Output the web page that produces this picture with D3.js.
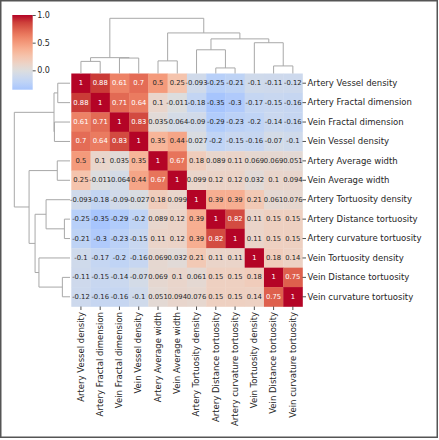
<!DOCTYPE html>
<html><head><meta charset="utf-8">
<script src="https://cdn.jsdelivr.net/npm/d3@7"></script>
<style>html,body{margin:0;padding:0;background:#fff;}svg{display:block;}</style>
</head><body>
<svg id="chart" width="439" height="440"></svg>
<script>
// ---------- data ----------
const labels = ["Artery Vessel density","Artery Fractal dimension","Vein Fractal dimension","Vein Vessel density",
  "Artery Average width","Vein Average width","Artery Tortuosity density","Artery Distance tortuosity",
  "Artery curvature tortuosity","Vein Tortuosity density","Vein Distance tortuosity","Vein curvature tortuosity"];
const annot = [
  ["1","0.88","0.61","0.7","0.5","0.25","-0.093","-0.25","-0.21","-0.1","-0.11","-0.12"],
  ["0.88","1","0.71","0.64","0.1","-0.011","-0.18","-0.35","-0.3","-0.17","-0.15","-0.16"],
  ["0.61","0.71","1","0.83","0.035","-0.064","-0.09","-0.29","-0.23","-0.2","-0.14","-0.16"],
  ["0.7","0.64","0.83","1","0.35","0.44","-0.027","-0.2","-0.15","-0.16","-0.07","-0.1"],
  ["0.5","0.1","0.035","0.35","1","0.67","0.18","0.089","0.11","0.069","0.069","0.051"],
  ["0.25","-0.011","-0.064","0.44","0.67","1","0.099","0.12","0.12","0.032","0.1","0.094"],
  ["-0.093","-0.18","-0.09","-0.027","0.18","0.099","1","0.39","0.39","0.21","0.061","0.076"],
  ["-0.25","-0.35","-0.29","-0.2","0.089","0.12","0.39","1","0.82","0.11","0.15","0.15"],
  ["-0.21","-0.3","-0.23","-0.15","0.11","0.12","0.39","0.82","1","0.11","0.15","0.15"],
  ["-0.1","-0.17","-0.2","-0.16","0.069","0.032","0.21","0.11","0.11","1","0.18","0.14"],
  ["-0.11","-0.15","-0.14","-0.07","0.069","0.1","0.061","0.15","0.15","0.18","1","0.75"],
  ["-0.12","-0.16","-0.16","-0.1","0.051","0.094","0.076","0.15","0.15","0.14","0.75","1"]
];
const colorbarTicks = [0, 0.5, 1.0];
const vmin = -0.35, vmax = 1.0, center = 0;
// linkage: [childA, childB, height]; leaves 0..11, merged clusters numbered from 12
const linkage = [
  [0,1,12.0],[2,3,15.3],[12,13,15.7],[4,5,12.5],[7,8,5.5],[6,16,23.5],
  [10,11,7.5],[9,18,30.5],[17,19,34.3],[15,20,40.2],[14,21,54.7]
];

// ---------- coolwarm colormap ----------
const cwT = [0,0.125,0.25,0.3125,0.375,0.4375,0.5,0.5625,0.625,0.6875,0.75,0.8125,0.875,0.9375,1];
const cwC = [[0.230,0.299,0.754],[0.383,0.509,0.917],[0.553,0.689,0.995],[0.639,0.760,0.998],[0.722,0.814,0.977],
  [0.799,0.850,0.932],[0.865,0.865,0.865],[0.924,0.827,0.775],[0.959,0.770,0.678],[0.970,0.694,0.579],
  [0.958,0.603,0.482],[0.924,0.497,0.388],[0.869,0.378,0.300],[0.796,0.241,0.221],[0.706,0.016,0.150]]
  .map(c => d3.rgb(c[0]*255,c[1]*255,c[2]*255).toString());
const coolwarm = d3.scaleLinear().domain(cwT).range(cwC).interpolate(d3.interpolateRgb).clamp(true);
const vrange = Math.max(vmax-center, center-vmin);
const norm = d3.scaleLinear().domain([center-vrange, center+vrange]).range([0,1]);
const colorOf = v => coolwarm(norm(v));
function lum(c){ const r=d3.rgb(c); const f=x=>{x/=255; return x<=0.03928? x/12.92 : Math.pow((x+0.055)/1.055,2.4);}; return 0.2126*f(r.r)+0.7152*f(r.g)+0.0722*f(r.b); }

// ---------- layout ----------
const svg = d3.select("#chart");
const font = "DejaVu Sans, sans-serif";
const hm = {x0:71.3, x1:302.5, y0:73.5, y1:306.5};
const idx = d3.range(labels.length);
const x = d3.scaleBand().domain(idx).range([hm.x0, hm.x1]);
const y = d3.scaleBand().domain(idx).range([hm.y0, hm.y1]);

// frame
svg.append("rect").attr("x",0.75).attr("y",0.75).attr("width",436.5).attr("height",436.5)
  .attr("fill","none").attr("stroke","#555").attr("stroke-width",1.5);

// cells
const cells = [];
annot.forEach((row,i)=>row.forEach((s,j)=>cells.push({i,j,s,v:+s})));
svg.append("g").selectAll("rect").data(cells).join("rect")
  .attr("x",d=>x(d.j)).attr("y",d=>y(d.i))
  .attr("width",x.bandwidth()+0.3).attr("height",y.bandwidth()+0.3)
  .attr("fill",d=>colorOf(d.v));
svg.append("g").selectAll("text").data(cells).join("text")
  .attr("x",d=>x(d.j)+x.bandwidth()/2).attr("y",d=>y(d.i)+y.bandwidth()/2)
  .attr("text-anchor","middle").attr("dominant-baseline","central")
  .attr("font-family",font).attr("font-size",6.8)
  .attr("fill",d=>lum(colorOf(d.v))>0.408?"#262626":"#ffffff")
  .text(d=>d.s);

// right axis
const ra = svg.append("g").attr("transform",`translate(${hm.x1},0)`)
  .call(d3.axisRight(y).tickSize(3.5).tickPadding(1.5).tickFormat(i=>labels[i]));
ra.select(".domain").remove();
ra.selectAll("text").attr("font-family",font).attr("font-size",8.5).attr("fill","#262626");
ra.selectAll("line").attr("stroke","#262626").attr("stroke-width",0.8);

// bottom axis
const ba = svg.append("g").attr("transform",`translate(0,${hm.y1})`)
  .call(d3.axisBottom(x).tickSize(3.5).tickPadding(1.5).tickFormat(i=>labels[i]));
ba.select(".domain").remove();
ba.selectAll("line").attr("stroke","#262626").attr("stroke-width",0.8);
ba.selectAll("text").attr("font-family",font).attr("font-size",8.5).attr("fill","#262626")
  .attr("transform","rotate(-90)").attr("text-anchor","end").attr("dy","0.32em")
  .attr("x",-5.5).attr("y",0);

// ---------- dendrograms ----------
function buildNodes(posOf){
  const nodes = idx.map(i=>({pos:posOf(i), h:0}));
  linkage.forEach(([a,b,h])=>{ nodes.push({a:nodes[a], b:nodes[b], pos:(nodes[a].pos+nodes[b].pos)/2, h}); });
  return nodes.slice(labels.length);
}
const treeStroke = "#a8a8a8";
const maxH = d3.max(linkage, d=>d[2]);
// top
const hTop = d3.scaleLinear().domain([0,maxH]).range([hm.y0, 18.3]);
const topNodes = buildNodes(i=>x(i)+x.bandwidth()/2);
svg.append("g").selectAll("path").data(topNodes).join("path")
  .attr("fill","none").attr("stroke",treeStroke).attr("stroke-width",1)
  .attr("d",n=>d3.line()([[n.a.pos,hTop(n.a.h)],[n.a.pos,hTop(n.h)],[n.b.pos,hTop(n.h)],[n.b.pos,hTop(n.b.h)]]));
// left
const hLeft = d3.scaleLinear().domain([0,maxH]).range([70, 14.3]);
const leftNodes = buildNodes(i=>y(i)+y.bandwidth()/2);
svg.append("g").selectAll("path").data(leftNodes).join("path")
  .attr("fill","none").attr("stroke",treeStroke).attr("stroke-width",1)
  .attr("d",n=>d3.line()([[hLeft(n.a.h),n.a.pos],[hLeft(n.h),n.a.pos],[hLeft(n.h),n.b.pos],[hLeft(n.b.h),n.b.pos]]));

// ---------- colorbar ----------
const cb = {x:12.3, w:20.4, y0:15, y1:89.7};
const cy = d3.scaleLinear().domain([vmin, vmax]).range([cb.y1, cb.y0]);
const defs = svg.append("defs");
const grad = defs.append("linearGradient").attr("id","cbg").attr("x1",0).attr("y1",1).attr("x2",0).attr("y2",0);
d3.range(0,1.0001,0.05).forEach(t=>{
  grad.append("stop").attr("offset",t).attr("stop-color",colorOf(vmin+t*(vmax-vmin)));
});
svg.append("rect").attr("x",cb.x).attr("y",cb.y0).attr("width",cb.w).attr("height",cb.y1-cb.y0).attr("fill","url(#cbg)");
const ca = svg.append("g").attr("transform",`translate(${cb.x+cb.w},0)`)
  .call(d3.axisRight(cy).tickValues(colorbarTicks).tickFormat(d3.format(".1f")).tickSize(3).tickPadding(1.5));
ca.select(".domain").remove();
ca.selectAll("text").attr("font-family",font).attr("font-size",8).attr("fill","#262626");
ca.selectAll("line").attr("stroke","#262626").attr("stroke-width",0.8);
</script>
</body></html>
